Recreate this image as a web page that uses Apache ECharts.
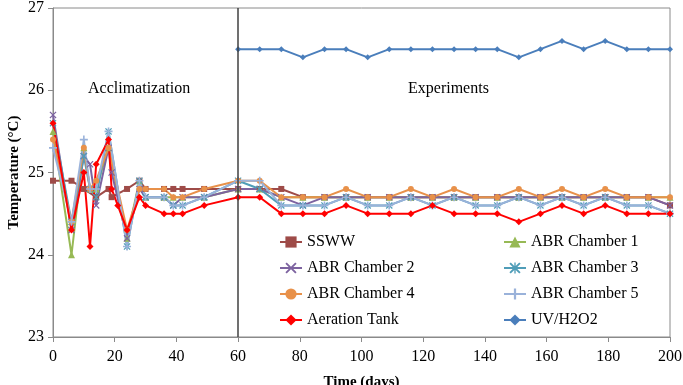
<!DOCTYPE html>
<html><head><meta charset="utf-8">
<script src="https://cdn.jsdelivr.net/npm/echarts@6/dist/echarts.min.js"></script>
<style>html,body{margin:0;padding:0;background:#fff}#c{width:683px;height:385px}</style>
</head><body><div id="c"></div>
<script>
var days = [0,6,10,12,14,18,19,21,24,28,30,36,39,42,49,60,67,74,81,88,95,102,109,116,123,130,137,144,151,158,165,172,179,186,193,200];
var ssww      = [24.9,24.9,24.8,null,24.7,24.8,24.7,null,24.8,24.9,24.8,24.8,24.8,24.8,24.8,24.8,24.8,24.8,24.7,24.7,24.7,24.7,24.7,24.7,24.7,24.7,24.7,24.7,24.7,24.7,24.7,24.7,24.7,24.7,24.7,24.6];
var abr1      = [25.5,24.0,25.3,24.8,24.8,25.3,null,null,24.2,24.9,24.7,24.7,24.7,24.7,24.7,24.8,24.8,24.7,24.7,24.7,24.7,24.7,24.7,24.7,24.7,24.7,24.7,24.7,24.7,24.7,24.7,24.7,24.7,24.7,24.7,24.7];
var abr2      = [25.7,24.3,25.2,25.1,24.6,25.3,25.0,null,24.2,24.8,24.7,24.7,24.6,24.7,24.7,24.8,24.8,24.7,24.6,24.7,24.7,24.7,24.7,24.7,24.7,24.7,24.7,24.7,24.7,24.7,24.7,24.7,24.7,24.7,24.7,24.6];
var abr3      = [25.6,24.4,25.2,24.8,24.7,25.5,null,null,24.1,24.9,24.7,24.7,24.6,24.6,24.7,24.9,24.8,24.6,24.6,24.6,24.7,24.6,24.6,24.7,24.6,24.7,24.6,24.6,24.7,24.6,24.7,24.6,24.7,24.6,24.6,24.5];
var abr4      = [25.4,24.4,25.3,24.8,24.9,25.3,null,null,24.3,24.8,24.8,24.8,24.7,24.7,24.8,24.9,24.9,24.7,24.7,24.7,24.8,24.7,24.7,24.8,24.7,24.8,24.7,24.7,24.8,24.7,24.8,24.7,24.8,24.7,24.7,24.7];
var abr5      = [25.3,24.4,25.4,24.8,24.8,25.5,null,null,24.1,24.9,24.7,24.7,24.6,24.6,24.7,24.9,24.9,24.6,24.6,24.6,24.7,24.6,24.6,24.7,24.6,24.7,24.6,24.6,24.7,24.6,24.7,24.6,24.7,24.6,24.6,24.5];
var aeration  = [25.6,24.3,25.0,24.1,25.1,25.4,24.8,24.6,24.3,24.7,24.6,24.5,24.5,24.5,24.6,24.7,24.7,24.5,24.5,24.5,24.6,24.5,24.5,24.5,24.6,24.5,24.5,24.5,24.4,24.5,24.6,24.5,24.6,24.5,24.5,24.5];
var uvh2o2    = [null,null,null,null,null,null,null,null,null,null,null,null,null,null,null,26.5,26.5,26.5,26.4,26.5,26.5,26.4,26.5,26.5,26.5,26.5,26.5,26.5,26.4,26.5,26.6,26.5,26.6,26.5,26.5,26.5];
var seriesNames = ['SSWW','ABR Chamber 1','ABR Chamber 2','ABR Chamber 3','ABR Chamber 4','ABR Chamber 5','Aeration Tank','UV/H2O2'];
var xTicks = [0,20,40,60,80,100,120,140,160,180,200];
var yTicks = [23,24,25,26,27];
var phaseDay = 60;

function pairs(vals){var out=[];for(var i=0;i<days.length;i++){if(vals[i]!==null)out.push([days[i],vals[i]]);}return out;}
var X='path://M0,1.2L1.2,0L5,3.8L8.8,0L10,1.2L6.2,5L10,8.8L8.8,10L5,6.2L1.2,10L0,8.8L3.8,5Z';
var PLUS='path://M4,0H6V4H10V6H6V10H4V6H0V4H4Z';
var STAR='path://M0,1.2L1.2,0L4.4,3.2V0H5.6V3.2L8.8,0L10,1.2L6.2,5L10,8.8L8.8,10L5.6,6.8V10H4.4V6.8L1.2,10L0,8.8L3.8,5Z';
var cfg = [
 {d:ssww,c:'#9E4B48',s:'rect',z:6},
 {d:abr1,c:'#97B955',s:'triangle',z:7},
 {d:abr2,c:'#7D63A0',s:X,z:7},
 {d:abr3,c:'#4F9DB8',s:STAR,z:7},
 {d:abr4,c:'#E8914A',s:'circle',z:6},
 {d:abr5,c:'#9AB2DA',s:PLUS,z:8},
 {d:aeration,c:'#FF0000',s:'diamond',z:7},
 {d:uvh2o2,c:'#4A7EBB',s:'diamond',z:6}
];
var series = cfg.map(function(o,i){
  return {name:seriesNames[i],type:'line',data:pairs(o.d),symbol:o.s,symbolSize:o.z,showAllSymbol:true,
    lineStyle:{color:o.c,width:2},itemStyle:{color:o.c},emphasis:{disabled:true},animation:false};
});
series[0].markLine = {silent:true,symbol:['none','none'],label:{show:false},
  lineStyle:{color:'#404040',type:'solid',width:1.5},data:[{xAxis:phaseDay}]};
var font='"Liberation Serif","Times New Roman",serif';
var chart = echarts.init(document.getElementById('c'));
chart.setOption({
  animation:false,
  backgroundColor:'#fff',
  grid:{left:53,right:13,top:8,bottom:48,show:true,borderColor:'#8a8a8a',borderWidth:1,
        containLabel:false,outerBoundsMode:'none'},
  xAxis:{type:'value',min:0,max:200,interval:20,
    axisLine:{show:true,lineStyle:{color:'#8a8a8a'}},
    axisTick:{show:true,length:5,lineStyle:{color:'#8a8a8a'}},
    splitLine:{show:false},
    axisLabel:{color:'#000',fontFamily:font,fontSize:16,margin:12},
    name:'Time (days)',nameLocation:'middle',nameGap:38,nameMoveOverlap:false,
    nameTextStyle:{color:'#000',fontFamily:font,fontSize:15,fontWeight:'bold'}},
  yAxis:{type:'value',min:23,max:27,interval:1,
    axisLine:{show:true,lineStyle:{color:'#8a8a8a'}},
    axisTick:{show:true,length:5,lineStyle:{color:'#8a8a8a'}},
    splitLine:{show:false},
    axisLabel:{color:'#000',fontFamily:font,fontSize:16,margin:9},
    name:'Temperature (°C)',nameLocation:'middle',nameGap:31,nameMoveOverlap:false,
    nameTextStyle:{color:'#000',fontFamily:font,fontSize:15,fontWeight:'bold'}},
  legend:[
    {orient:'vertical',left:279,top:234,padding:0,itemGap:10,itemWidth:22,itemHeight:14,
     data:[seriesNames[0],seriesNames[2],seriesNames[4],seriesNames[6]],
     textStyle:{color:'#000',fontFamily:font,fontSize:16}},
    {orient:'vertical',left:503,top:234,padding:0,itemGap:10,itemWidth:22,itemHeight:14,
     data:[seriesNames[1],seriesNames[3],seriesNames[5],seriesNames[7]],
     textStyle:{color:'#000',fontFamily:font,fontSize:16}}
  ],
  graphic:[
    {type:'text',left:88,top:81,style:{text:'Acclimatization',fill:'#000',font:'16px '+font}},
    {type:'text',left:408,top:81,style:{text:'Experiments',fill:'#000',font:'16px '+font}}
  ],
  series:series
});
</script></body></html>
